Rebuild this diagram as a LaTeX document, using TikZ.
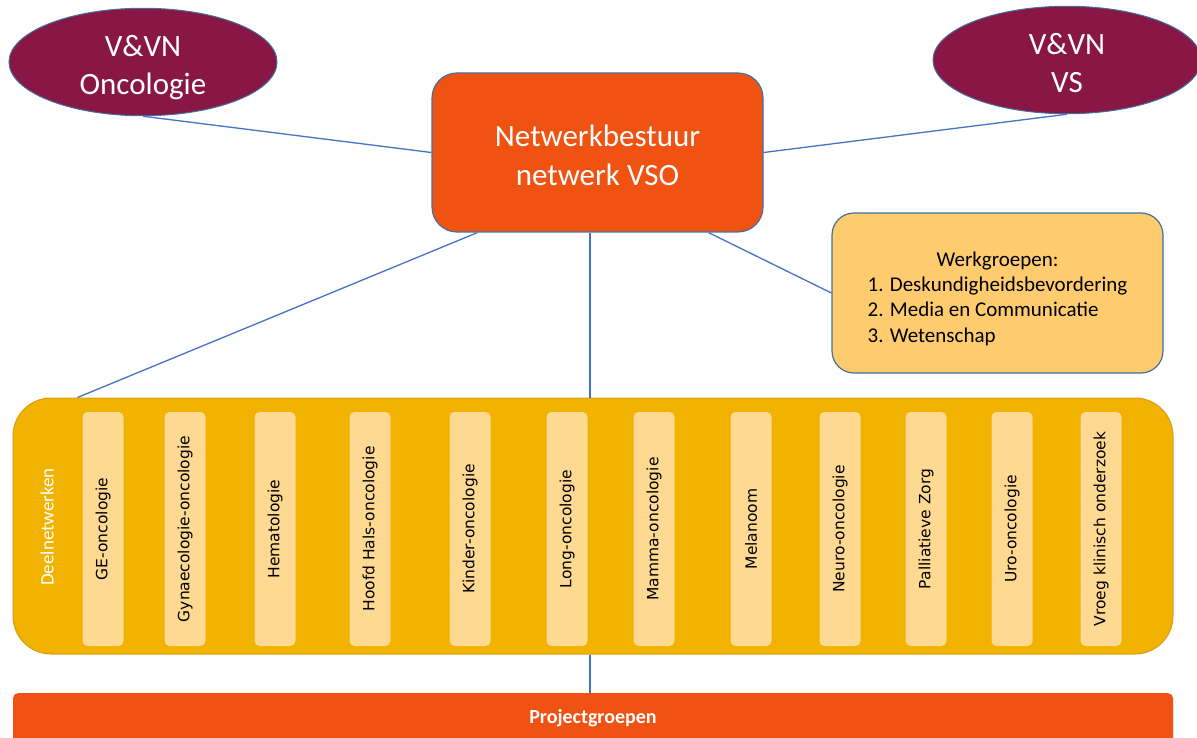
\documentclass[tikz,border=0pt]{standalone}
\usepackage{fontspec}
\setmainfont{Carlito}
\newfontfamily\barfont{DejaVu Sans}
\usetikzlibrary{shapes.geometric}
\definecolor{vvnpurple}{RGB}{137,23,69}
\definecolor{vsoorange}{RGB}{240,82,18}
\definecolor{werkyellow}{RGB}{254,204,111}
\definecolor{deelgold}{RGB}{242,178,0}
\definecolor{deeledge}{RGB}{214,160,20}
\definecolor{barlight}{RGB}{253,217,146}
\definecolor{edgeblue}{RGB}{65,113,156}
\definecolor{linkblue}{RGB}{68,114,196}
\tikzset{
	vvn/.style={ellipse,draw=edgeblue,line width=1pt,fill=vvnpurple,text=white,inner sep=0pt,
		minimum width=268pt,minimum height=100pt,font=\fontsize{31}{38}\selectfont},
	bestuur/.style={rectangle,rounded corners=25pt,draw=edgeblue,line width=1.2pt,fill=vsoorange,text=white,
		minimum width=331pt,minimum height=159pt,font=\fontsize{31}{39}\selectfont},
	werk/.style={rectangle,rounded corners=22pt,draw=edgeblue,line width=1.2pt,fill=werkyellow,
		minimum width=331pt,minimum height=160pt,font=\fontsize{21}{25.3}\selectfont},
	deel/.style={rectangle,rounded corners=38pt,draw=deeledge,line width=1pt,fill=deelgold,
		minimum width=1160pt,minimum height=256pt},
	deellabel/.style={rotate=90,text=white,font=\fontsize{19}{22}\selectfont},
	deelbar/.style={rectangle,rotate=90,rounded corners=5pt,fill=barlight,
		minimum width=234pt,minimum height=41pt,font=\barfont\fontsize{15.5}{18}\selectfont},
	project/.style={rectangle,rounded corners=5pt,fill=vsoorange,text=white,
		minimum width=1160pt,minimum height=50pt,font=\bfseries\fontsize{20}{24}\selectfont},
	link/.style={draw=linkblue,line width=1.3pt}
}
\begin{document}
\begin{tikzpicture}[x=1pt,y=-1pt]
		\useasboundingbox (0,0) rectangle (1197,738);
		\clip (0,0) rectangle (1197,738);
		\node[vvn] (onc) at (143,62) {\raisebox{-6pt}[\height][\depth]{\begin{tabular}{@{}c@{}}V\&VN\\Oncologie\end{tabular}}};
		\node[vvn] (vs) at (1067,60) {\raisebox{-6pt}[\height][\depth]{\begin{tabular}{@{}c@{}}V\&VN\\VS\end{tabular}}};
		\node[bestuur] (bestuur) at (597.5,152.5) {\raisebox{-6pt}[\height][\depth]{\begin{tabular}{@{}c@{}}Netwerkbestuur\\netwerk VSO\end{tabular}}};
		\node[werk] (werk) at (997.5,293) {\raisebox{-6pt}[\height][\depth]{\begin{tabular}{@{}l@{}}\multicolumn{1}{@{}c@{}}{Werkgroepen:}\\
			1. Deskundigheidsbevordering\\2. Media en Communicatie\\3. Wetenschap\end{tabular}}};
		\node[deel] (deel) at (593,526) {};
		\node[deellabel] (deeltitle) at (47,527) {Deelnetwerken};
		\foreach \x/\t [count=\i] in {103/GE-oncologie,185/Gynaecologie-oncologie,275/Hematologie,
			370/Hoofd Hals-oncologie,470/Kinder-oncologie,567/Long-oncologie,654/Mamma-oncologie,
			751/Melanoom,840/Neuro-oncologie,926/Palliatieve Zorg,1012/Uro-oncologie,1101/Vroeg klinisch onderzoek}
			\node[deelbar] (bar\i) at (\x,529) {\t};
		\node[project,anchor=north] (project) at (593,693) {Projectgroepen};
		\coordinate (mid) at ([xshift=-7.5pt]bestuur.south);
		\draw[link] (onc.south) -- (bestuur.west);
		\draw[link] (vs.south) -- (bestuur.east);
		\draw[link] ([xshift=46pt]bestuur.south west) -- ([xshift=65pt]deel.north west);
		\draw[link] (mid) -- (mid |- deel.north);
		\draw[link] ([xshift=-55pt]bestuur.south east) -- (werk.west);
		\draw[link] (mid |- deel.south) -- (mid |- project.north);
\end{tikzpicture}
\end{document}
